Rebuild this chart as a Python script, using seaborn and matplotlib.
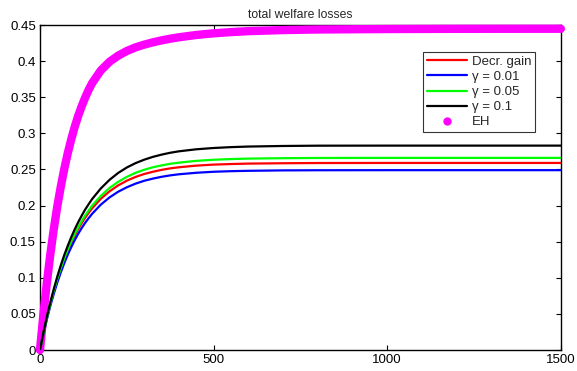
import pandas as pd
import matplotlib
matplotlib.use("Agg")
import matplotlib.pyplot as plt
from matplotlib.lines import Line2D
import seaborn as sns

# time steps
t = [0, 10, 20, 30, 40, 50, 60, 70, 80, 90, 100, 110, 120, 130, 140, 150,
     175, 200, 225, 250, 275, 300, 325, 350, 375, 400, 450, 500, 550, 600,
     700, 800, 1000, 1200, 1500]

decr_gain = [0, 0.0233, 0.0445, 0.0640, 0.0813, 0.0974, 0.1119, 0.1251, 0.1373,
             0.1481, 0.1582, 0.1673, 0.1756, 0.1831, 0.1898, 0.1961, 0.2093,
             0.2196, 0.2279, 0.2344, 0.2396, 0.2437, 0.2468, 0.2494, 0.2515,
             0.2530, 0.2553, 0.2567, 0.2575, 0.2581, 0.2586, 0.2589, 0.2590,
             0.2590, 0.2590]
gamma_001 = [0, 0.0224, 0.0428, 0.0615, 0.0782, 0.0936, 0.1076, 0.1203, 0.1320,
             0.1424, 0.1521, 0.1609, 0.1688, 0.1760, 0.1825, 0.1885, 0.2012,
             0.2112, 0.2191, 0.2253, 0.2303, 0.2343, 0.2373, 0.2398, 0.2418,
             0.2433, 0.2454, 0.2468, 0.2476, 0.2481, 0.2487, 0.2489, 0.2490,
             0.2490, 0.2490]
gamma_005 = [0, 0.0234, 0.0450, 0.0646, 0.0825, 0.0987, 0.1133, 0.1269, 0.1391,
             0.1503, 0.1607, 0.1700, 0.1785, 0.1862, 0.1931, 0.1998, 0.2133,
             0.2242, 0.2328, 0.2397, 0.2453, 0.2495, 0.2530, 0.2556, 0.2578,
             0.2594, 0.2619, 0.2634, 0.2644, 0.2650, 0.2656, 0.2659, 0.2660,
             0.2660, 0.2660]
gamma_01 = [0, 0.0241, 0.0464, 0.0665, 0.0849, 0.1019, 0.1174, 0.1316, 0.1443,
            0.1562, 0.1670, 0.1769, 0.1859, 0.1944, 0.2018, 0.2089, 0.2236,
            0.2355, 0.2451, 0.2527, 0.2587, 0.2635, 0.2674, 0.2705, 0.2731,
            0.2751, 0.2779, 0.2797, 0.2809, 0.2817, 0.2825, 0.2829, 0.2830,
            0.2830, 0.2830]
eh = [0, 0.0497, 0.0941, 0.1332, 0.1683, 0.1994, 0.2264, 0.2509, 0.2726, 0.2917,
      0.3090, 0.3241, 0.3374, 0.3494, 0.3601, 0.3694, 0.3870, 0.3990, 0.4075,
      0.4140, 0.4190, 0.4228, 0.4260, 0.4287, 0.4310, 0.4330, 0.4362, 0.4385,
      0.4402, 0.4415, 0.4430, 0.4438, 0.4444, 0.4447, 0.4448]

labels = ["Decr. gain", "\u03b3 = 0.01", "\u03b3 = 0.05", "\u03b3 = 0.1"]
colors = ["#ff0000", "#0000ff", "#00ff00", "#000000"]
yticks = [0, 0.05, 0.1, 0.15, 0.2, 0.25, 0.3, 0.35, 0.4, 0.45]
xticks = [0, 500, 1000, 1500]

df = pd.DataFrame({"t": t * 4,
                   "loss": decr_gain + gamma_001 + gamma_005 + gamma_01,
                   "series": sum([[l] * len(t) for l in labels], [])})
df_eh = pd.DataFrame({"t": t, "loss": eh})

sns.set_style("ticks")
plt.rcParams["font.family"] = ["Liberation Sans", "DejaVu Sans"]

fig = plt.figure(figsize=(5.77, 3.71), dpi=100)
ax = fig.add_axes([0.0693, 0.0566, 0.9027, 0.876])

sns.lineplot(data=df_eh, x="t", y="loss", color="#ff00ff", linewidth=6,
             solid_capstyle="round", solid_joinstyle="round", ax=ax,
             legend=False, clip_on=False, zorder=3)
sns.lineplot(data=df, x="t", y="loss", hue="series", hue_order=labels,
             palette=colors, linewidth=1.6, ax=ax, legend=False, zorder=4)

ax.set_xlim(0, 1500)
ax.set_ylim(0, 0.45)
ax.set_xticks(xticks)
ax.set_xticklabels([str(v) for v in xticks])
ax.set_yticks(yticks)
ax.set_yticklabels(["%g" % v for v in yticks])
ax.set_xlabel("")
ax.set_ylabel("")
ax.tick_params(direction="in", length=3.5, width=0.8, labelsize=9.5,
               top=True, right=True, pad=3, colors="black")
for s in ax.spines.values():
    s.set_visible(True)
    s.set_linewidth(1.0)
    s.set_color("black")
ax.set_title("total welfare losses", fontsize=8.8, pad=5)

handles = [Line2D([], [], color=c, linewidth=1.6) for c in colors]
handles.append(Line2D([], [], color="#ff00ff", marker="o", markersize=5,
                      linestyle="none"))
leg = ax.legend(handles, labels + ["EH"], loc="upper right",
                bbox_to_anchor=(0.951, 0.918), fontsize=9.5, handlelength=3.0,
                labelspacing=0.22, handletextpad=0.4, borderpad=0.3,
                frameon=True, fancybox=False, borderaxespad=0)
leg.get_frame().set_edgecolor("black")
leg.get_frame().set_linewidth(0.8)

fig.savefig("out.png", dpi=100)
